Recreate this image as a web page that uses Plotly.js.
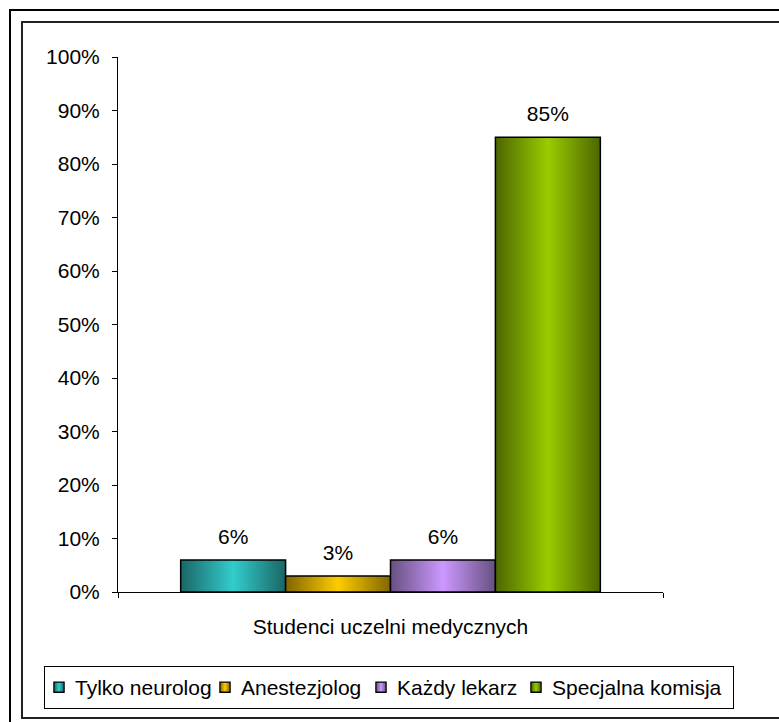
<!DOCTYPE html>
<html>
<head>
<meta charset="utf-8">
<script src="https://cdn.plot.ly/plotly-3.0.1.min.js"></script>
<style>
  html, body { margin: 0; padding: 0; background: #ffffff; overflow: hidden; }
  #wrap { position: relative; width: 779px; height: 722px; }
  #outer { position: absolute; left: 9px; top: 9px; width: 800px; height: 800px; border: 2px solid #000; box-sizing: border-box; }
  #inner { position: absolute; left: 21px; top: 21px; width: 800px; height: 698px; border: 2px solid #222; box-sizing: border-box; }
  #chart { position: absolute; left: 0; top: 0; width: 779px; height: 722px; }
</style>
</head>
<body>
<div id="wrap">
  <div id="outer"></div>
  <div id="inner"></div>
  <div id="chart"></div>
</div>
<script>
const category = ['Studenci uczelni medycznych'];
const seriesNames = ['Tylko neurolog', 'Anestezjolog', 'Każdy lekarz', 'Specjalna komisja'];
const seriesValues = [0.06, 0.03, 0.06, 0.85];
const seriesLabels = ['6%', '3%', '6%', '85%'];
const yTickVals = [0, 0.1, 0.2, 0.3, 0.4, 0.5, 0.6, 0.7, 0.8, 0.9, 1.0];
const yTickText = ['0%', '10%', '20%', '30%', '40%', '50%', '60%', '70%', '80%', '90%', '100%'];

const baseColors = ['#33cccc', '#ffcc00', '#cc99ff', '#99cc00'];
const edgeColors = ['#1a6666', '#806600', '#665080', '#4d6600'];
const legendWidths = [131, 121, 120, 176];

const FONT = 'Liberation Sans, Arial, sans-serif';

const data = seriesNames.map((name, i) => ({
  type: 'bar',
  name: name,
  x: category,
  y: [seriesValues[i]],
  text: [seriesLabels[i]],
  textposition: 'outside',
  textfont: { family: FONT, size: 21, color: '#000' },
  cliponaxis: false,
  legendwidth: legendWidths[i],
  marker: { color: baseColors[i], line: { color: '#000', width: 1.5 } },
  hoverinfo: 'none'
}));

const layout = {
  width: 779,
  height: 722,
  margin: { l: 118, r: 0, t: 57, b: 130 },
  paper_bgcolor: 'rgba(0,0,0,0)',
  plot_bgcolor: 'rgba(0,0,0,0)',
  font: { family: FONT, size: 21, color: '#000' },
  barmode: 'group',
  bargap: 0.23,
  bargroupgap: 0,
  showlegend: true,
  legend: {
    orientation: 'h',
    x: -0.11195, xanchor: 'left',
    y: -0.1383, yanchor: 'top',
    bgcolor: '#fff',
    bordercolor: '#000',
    borderwidth: 1,
    font: { family: FONT, size: 21, color: '#000' },
    traceorder: 'normal',
    itemwidth: 30,
    indentation: -10
  },
  xaxis: {
    type: 'category',
    domain: [0, 0.82451],
    showline: true, linecolor: '#000', linewidth: 1,
    ticks: 'outside', ticklen: 5, tickcolor: '#000', tickwidth: 1,
    tickson: 'boundaries',
    showgrid: false, zeroline: false,
    tickfont: { family: FONT, size: 21, color: '#000' },
    ticklabelstandoff: 16,
    fixedrange: true
  },
  yaxis: {
    range: [0, 1],
    tickvals: yTickVals,
    ticktext: yTickText,
    showline: true, linecolor: '#000', linewidth: 1,
    ticks: 'outside', ticklen: 5, tickcolor: '#000', tickwidth: 1,
    showgrid: false, zeroline: false,
    tickfont: { family: FONT, size: 21, color: '#000' },
    ticklabelstandoff: 8,
    fixedrange: true
  }
};

Plotly.newPlot('chart', data, layout, { displayModeBar: false, staticPlot: true }).then(function (gd) {
  const svgNS = 'http://www.w3.org/2000/svg';
  const svg = gd.querySelector('.main-svg');
  const defs = document.createElementNS(svgNS, 'defs');
  svg.insertBefore(defs, svg.firstChild);
  baseColors.forEach(function (c, i) {
    const g = document.createElementNS(svgNS, 'linearGradient');
    g.setAttribute('id', 'bargrad' + i);
    g.setAttribute('x1', '0'); g.setAttribute('x2', '1');
    g.setAttribute('y1', '0'); g.setAttribute('y2', '0');
    [[0, edgeColors[i]], [0.5, c], [1, edgeColors[i]]].forEach(function (s) {
      const st = document.createElementNS(svgNS, 'stop');
      st.setAttribute('offset', s[0]);
      st.setAttribute('stop-color', s[1]);
      g.appendChild(st);
    });
    defs.appendChild(g);
  });
  gd.querySelectorAll('.barlayer .trace').forEach(function (tr, i) {
    tr.querySelectorAll('.point path').forEach(function (p) {
      p.style.setProperty('fill', 'url(#bargrad' + i + ')');
    });
    tr.querySelectorAll('.point text').forEach(function (t) {
      t.setAttribute('transform', 'translate(0,-9) ' + (t.getAttribute('transform') || ''));
    });
  });
  gd.querySelectorAll('.legend .traces').forEach(function (tr, i) {
    tr.querySelectorAll('.legendpoints path').forEach(function (p) {
      p.style.setProperty('fill', 'url(#bargrad' + i + ')');
      p.setAttribute('transform', (p.getAttribute('transform') || '') + ' translate(4,0) scale(0.85)');
    });
  });
});
</script>
</body>
</html>
